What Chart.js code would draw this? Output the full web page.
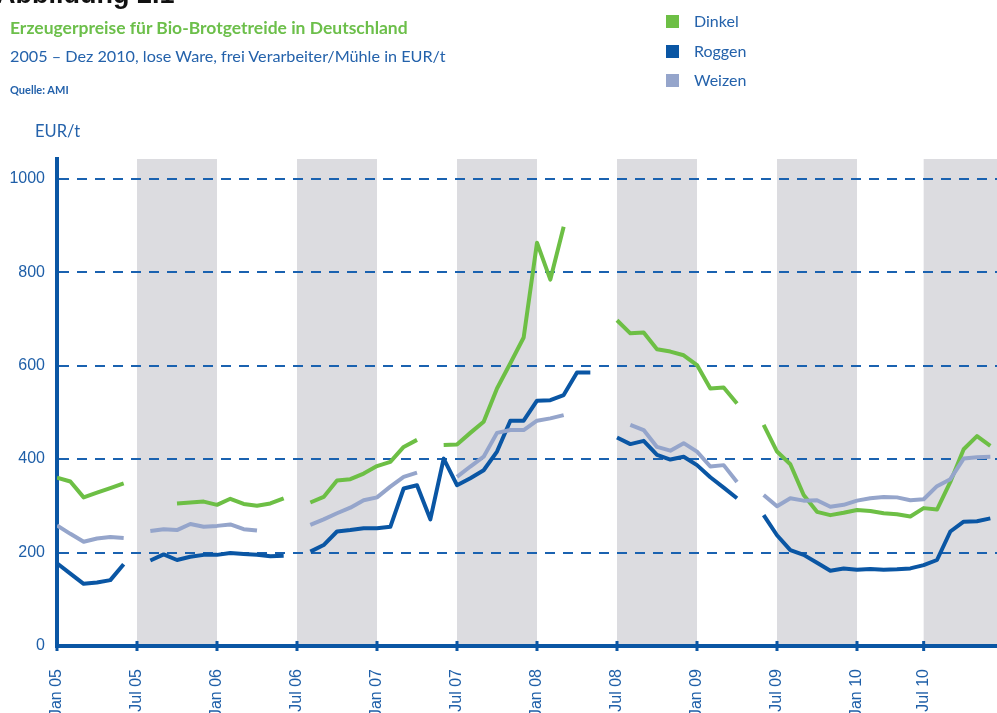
<!DOCTYPE html>
<html>
<head>
<meta charset="utf-8">
<script src="https://cdn.jsdelivr.net/npm/chart.js@4.4.0/dist/chart.umd.min.js"></script>
<style>
  body { margin: 0; overflow: hidden; background: #fff; }
  #wrap { position: absolute; left: 0; top: 0; width: 997px; height: 713px; }
  .txt { position: absolute; white-space: nowrap; font-family: Lato, "Noto Sans", sans-serif; color: #2462ab; }
  .sq { position: absolute; width: 13px; height: 13px; }
</style>
</head>
<body>
<div id="wrap"><canvas id="priceChart"></canvas></div>

<div class="txt" style="left:-4px; top:-21px; font-family:'Liberation Sans',Arial,sans-serif; font-weight:bold; font-size:27px; color:#111;">Abbildung 2.1</div>
<div class="txt" style="left:10px; top:17px; font-size:17.5px; font-weight:bold; color:#6cbf4a;">Erzeugerpreise für Bio-Brotgetreide in Deutschland</div>
<div class="txt" style="left:10px; top:46px; font-size:16.2px;">2005 – Dez 2010, lose Ware, frei Verarbeiter/Mühle in EUR/t</div>
<div class="txt" style="left:10px; top:83px; font-size:11px; font-weight:bold;">Quelle: AMI</div>
<div class="txt" style="left:35px; top:121px; font-size:16.5px;">EUR/t</div>

<div class="sq" style="left:666px; top:15px; background:#6dbf45;"></div>
<div class="txt" style="left:694px; top:11px; font-size:16px;">Dinkel</div>
<div class="sq" style="left:666px; top:45px; background:#0a56a4;"></div>
<div class="txt" style="left:694px; top:41px; font-size:16px;">Roggen</div>
<div class="sq" style="left:666px; top:74px; background:#95a5cb;"></div>
<div class="txt" style="left:694px; top:70px; font-size:16px;">Weizen</div>

<script>
// month index 0 = Jan 05 (one step per month, as drawn in the source chart)
const seriesNames = ['Dinkel', 'Roggen', 'Weizen'];

const dinkel = [
  360, 352, 318, 328, 338, 348,
  null, null, null,
  305, 307, 309, 302, 315, 304, 300, 305, 316,
  null,
  307, 319, 354, 357, 369, 385, 394, 426, 441,
  null,
  430, 431, 456, 480, 551, 605, 660, 863, 784, 897,
  null, null, null,
  697, 669, 671, 635, 630, 622, 601, 551, 553, 519,
  null,
  473, 416, 389, 323, 287, 280, 285, 291, 289, 284, 282, 277, 295, 292, 351, 421, 449, 428
];

const roggen = [
  177, 155, 133, 136, 141, 175,
  null,
  183, 196, 184, 191, 195, 195, 199, 197, 195, 192, 193,
  null,
  202, 216, 245, 248, 252, 252, 255, 337, 344, 271, 401, 344, 359, 376, 416, 482, 482, 525, 526, 537, 585, 585,
  null,
  446, 432, 439, 409, 399, 405, 387, 361, 339, 316,
  null,
  280, 237, 205, 195, 178, 161, 166, 163, 165, 163, 164, 166, 173, 184, 245, 266, 267, 273
];

const weizen = [
  258, 240, 223, 230, 233, 231,
  null,
  246, 250, 248, 261, 255, 257, 260, 250, 247,
  null, null, null,
  259, 271, 284, 296, 312, 318, 341, 362, 371,
  null, null,
  362, 384, 405, 456, 462, 462, 482, 487, 494,
  null, null, null, null,
  473, 462, 426, 418, 434, 416, 384, 387, 351,
  null,
  323, 299, 316, 311, 312, 298, 302, 311, 316, 319, 318, 312, 314, 342, 357, 401, 404, 405
];

const xTickPos = [0, 6, 12, 18, 24, 30, 36, 42, 48, 54, 60, 65];
const xTickLabels = ['Jan 05', 'Jul 05', 'Jan 06', 'Jul 06', 'Jan 07', 'Jul 07', 'Jan 08', 'Jul 08', 'Jan 09', 'Jul 09', 'Jan 10', 'Jul 10'];
const yTicks = [0, 200, 400, 600, 800, 1000];

// second half of each year is shaded
const halfYearBands = [[6, 12], [18, 24], [30, 36], [42, 48], [54, 60], [65, 70.5]];

const blue = '#0a56a4';
const textBlue = '#1f5fa8';

function toPoints(values) {
  return values.map((v, i) => ({ x: i, y: v }));
}

const bandPlugin = {
  id: 'bands',
  beforeDraw(chart) {
    const { ctx, chartArea, scales } = chart;
    ctx.save();
    ctx.fillStyle = '#dcdce0';
    halfYearBands.forEach(b => {
      const x1 = scales.x.getPixelForValue(b[0]);
      const x2 = Math.min(scales.x.getPixelForValue(b[1]), chartArea.right);
      ctx.fillRect(x1, chartArea.top, x2 - x1, chartArea.bottom - chartArea.top);
    });
    ctx.restore();
  },
  afterDraw(chart) {
    // small tick marks crossing the x axis
    const { ctx, chartArea, scales } = chart;
    ctx.save();
    ctx.fillStyle = blue;
    xTickPos.forEach(p => {
      const px = scales.x.getPixelForValue(p);
      ctx.fillRect(px - 1.5, chartArea.bottom - 5, 3, 10);
    });
    ctx.restore();
  }
};

const line = (label, data, color) => ({
  label: label,
  data: toPoints(data),
  borderColor: color,
  backgroundColor: color,
  borderWidth: 4,
  pointRadius: 0,
  spanGaps: false,
  tension: 0,
  borderJoinStyle: 'round'
});

new Chart(document.getElementById('priceChart'), {
  type: 'line',
  data: {
    datasets: [
      line(seriesNames[2], weizen, '#95a5cb'),
      line(seriesNames[0], dinkel, '#6dbf45'),
      line(seriesNames[1], roggen, blue)
    ]
  },
  options: {
    responsive: true,
    maintainAspectRatio: false,
    animation: false,
    layout: { padding: { top: 159, left: 0, right: 0, bottom: 0 } },
    plugins: {
      legend: { display: false },
      tooltip: { enabled: false }
    },
    scales: {
      x: {
        type: 'linear',
        min: 0,
        max: 70.5,
        afterBuildTicks: scale => { scale.ticks = xTickPos.map(v => ({ value: v })); },
        afterFit: scale => { scale.height = 67; },
        grid: { display: false },
        border: { display: true, color: blue, width: 4 },
        ticks: {
          autoSkip: false,
          minRotation: 90,
          maxRotation: 90,
          padding: 15,
          color: textBlue,
          font: { family: 'Liberation Sans', size: 16 },
          callback: (v) => xTickLabels[xTickPos.indexOf(v)]
        }
      },
      y: {
        min: 0,
        max: 1042,
        afterBuildTicks: scale => { scale.ticks = yTicks.map(v => ({ value: v })); },
        afterFit: scale => { scale.width = 57; },
        grid: {
          drawTicks: false,
          lineWidth: 2,
          color: ctx => (ctx.tick && ctx.tick.value === 0) ? 'rgba(0,0,0,0)' : '#1a62b0'
        },
        border: { display: true, color: blue, width: 4, dash: [10, 8] },
        ticks: {
          padding: 12,
          color: textBlue,
          font: { family: 'Liberation Sans', size: 16 },
          callback: (v) => String(v)
        }
      }
    }
  },
  plugins: [bandPlugin]
});
</script>
</body>
</html>
